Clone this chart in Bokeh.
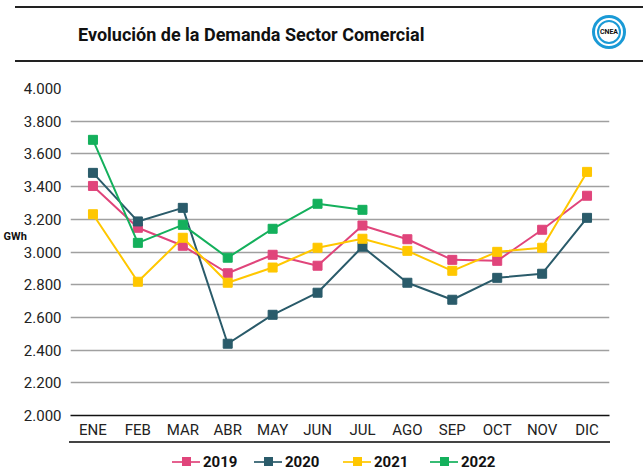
from bokeh.plotting import figure
from bokeh.layouts import column
from bokeh.models import FactorRange, Range1d, FixedTicker, Div
from bokeh.embed import file_html
from bokeh.resources import INLINE

months = ["ENE", "FEB", "MAR", "ABR", "MAY", "JUN", "JUL", "AGO", "SEP", "OCT", "NOV", "DIC"]
y2019 = [3404, 3148, 3038, 2870, 2983, 2916, 3162, 3078, 2952, 2946, 3136, 3344]
y2020 = [3484, 3187, 3270, 2439, 2616, 2751, 3032, 2812, 2708, 2842, 2867, 3209]
y2021 = [3231, 2818, 3087, 2812, 2905, 3026, 3081, 3007, 2885, 3001, 3026, 3490]
y2022 = [3686, 3056, 3166, 2965, 3142, 3295, 3258]
yticks = [2000, 2200, 2400, 2600, 2800, 3000, 3200, 3400, 3600, 3800, 4000]
ytick_labels = {t: f"{t//1000}.{t%1000:03d}" for t in yticks}
title_text = "Evolución de la Demanda Sector Comercial"
unit_text = "GWh"
series_names = ["2019", "2020", "2021", "2022"]
series_colors = ["#E0457B", "#2A5B6A", "#FFC700", "#14B05C"]
series_values = [y2019, y2020, y2021, y2022]

FONT = "Roboto"
W = 643
HEAD = 70
FOOT = 32
FIG_H = 473 - HEAD - FOOT

header_html = f"""
<div style="position:relative;width:{W}px;height:{HEAD}px;font-family:{FONT},sans-serif;">
  <div style="position:absolute;left:15px;top:6px;width:{W-15}px;height:2px;background:#222;"></div>
  <div style="position:absolute;left:78px;top:24px;font-size:18px;line-height:22px;font-weight:bold;color:#111;white-space:nowrap;">{title_text}</div>
  <div style="position:absolute;left:592px;top:15px;width:34px;height:34px;border-radius:50%;border:3px solid #1a9ad6;box-sizing:border-box;"></div>
  <div style="position:absolute;left:597px;top:20px;width:24px;height:24px;border-radius:50%;border:2px solid #1a9ad6;box-sizing:border-box;"></div>
  <div style="position:absolute;left:597px;top:27px;width:24px;text-align:center;font-size:7px;line-height:10px;font-weight:bold;color:#111;">CNEA</div>
  <div style="position:absolute;left:15px;top:60px;width:{W-15}px;height:2px;background:#222;"></div>
</div>
"""
header = Div(text=header_html, width=W, height=HEAD, margin=0)

p = figure(width=W, height=FIG_H, x_range=FactorRange(*months), y_range=Range1d(2000, 4000),
           output_backend="svg", toolbar_location=None,
           min_border_left=68, min_border_right=34, min_border_top=88 - HEAD,
           min_border_bottom=FIG_H - (415 - HEAD))
p.outline_line_color = None
p.xgrid.grid_line_color = None
p.ygrid.grid_line_color = "#a0a0a0"
p.ygrid.grid_line_width = 1.5
p.yaxis.ticker = FixedTicker(ticks=yticks)
p.yaxis.major_label_overrides = ytick_labels
p.yaxis.axis_line_color = None
p.yaxis.major_tick_line_color = None
p.yaxis.minor_tick_line_color = None
p.yaxis.major_tick_out = 0
p.yaxis.major_label_text_font = FONT
p.yaxis.major_label_text_font_size = "15px"
p.yaxis.major_label_text_color = "#222222"
p.yaxis.major_label_standoff = 9
# unit label, lifted above the middle by two blank lines so it sits between 3.200 and 3.000
p.yaxis.axis_label = unit_text + "\n \n "
p.yaxis.axis_label_orientation = "horizontal"
p.yaxis.axis_label_text_font = FONT
p.yaxis.axis_label_text_font_style = "bold"
p.yaxis.axis_label_text_font_size = "11px"
p.yaxis.axis_label_text_color = "#111111"
p.yaxis.axis_label_standoff = -6

p.xaxis.axis_line_color = "#111111"
p.xaxis.axis_line_width = 1.5
p.xaxis.major_tick_line_color = None
p.xaxis.minor_tick_line_color = None
p.xaxis.major_tick_out = 0
p.xaxis.major_label_text_font = FONT
p.xaxis.major_label_text_font_size = "15px"
p.xaxis.major_label_text_color = "#222222"
p.xaxis.major_label_standoff = 5

for name, vals, col in zip(series_names, series_values, series_colors):
    xs = months[:len(vals)]
    p.line(xs, vals, line_color=col, line_width=2)
    p.scatter(xs, vals, marker="square", size=9, fill_color=col, line_color=col)

# footer: rule under month labels + legend
legend_x = [172, 254, 343, 430]
parts = [f'<div style="position:absolute;left:69px;top:0px;width:541px;height:2px;background:#444;"></div>']
for lx, name, col in zip(legend_x, series_names, series_colors):
    parts.append(f'<div style="position:absolute;left:{lx}px;top:20px;width:28px;height:2px;background:{col};opacity:0.85;"></div>')
    parts.append(f'<div style="position:absolute;left:{lx+10}px;top:16px;width:9px;height:9px;background:{col};"></div>')
    parts.append(f'<div style="position:absolute;left:{lx+31}px;top:11px;font-size:15px;line-height:20px;font-weight:bold;color:#111;">{name}</div>')
footer_html = (f'<div style="position:relative;width:{W}px;height:{FOOT}px;font-family:{FONT},sans-serif;">'
               + "".join(parts) + "</div>")
footer = Div(text=footer_html, width=W, height=FOOT, margin=0)

layout = column(header, p, footer, spacing=0)
open("out.html", "w").write(file_html(layout, INLINE))
